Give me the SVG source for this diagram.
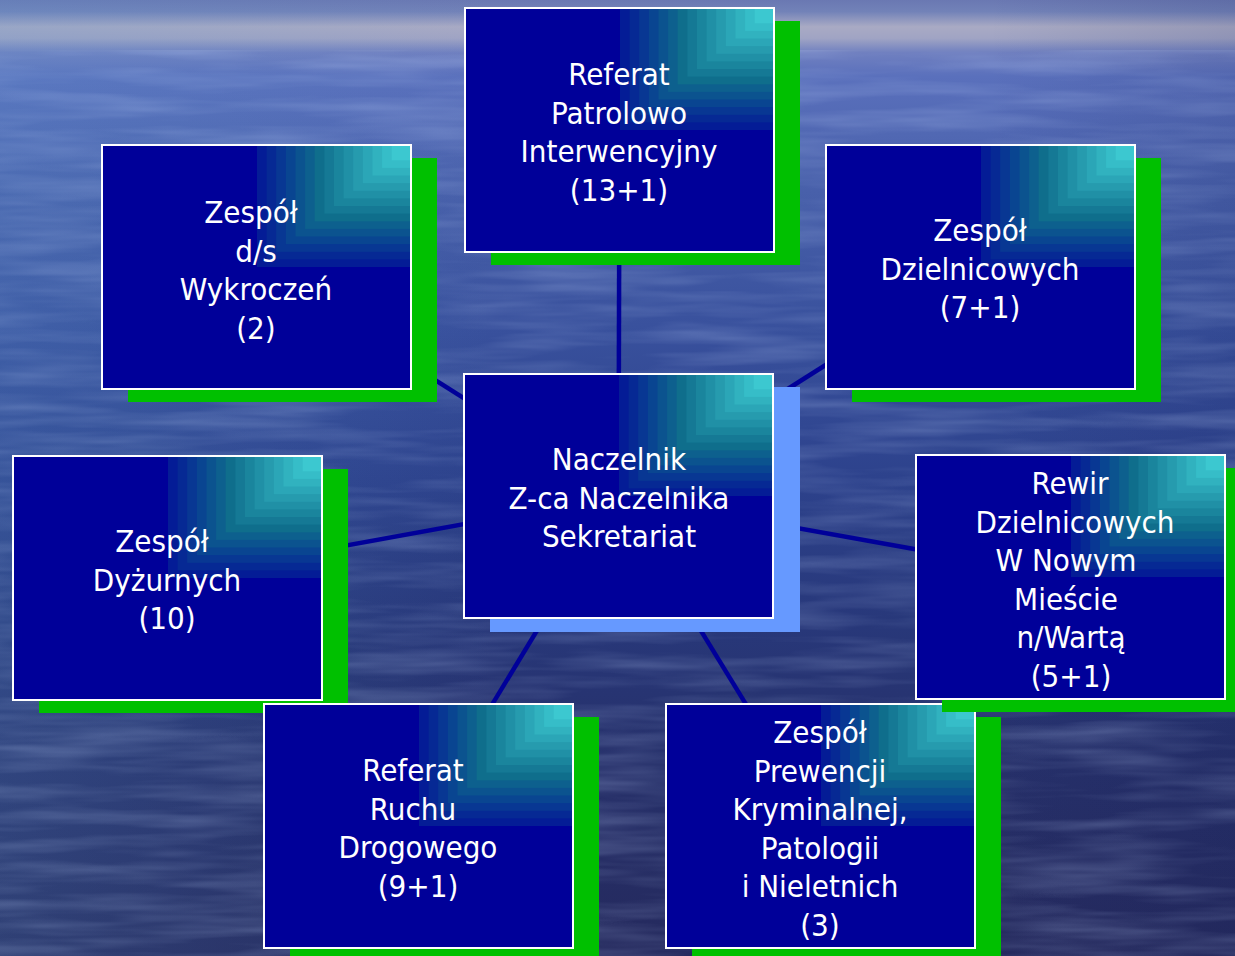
<svg xmlns="http://www.w3.org/2000/svg" xmlns:xlink="http://www.w3.org/1999/xlink" width="1235" height="956" viewBox="0 0 1235 956">
<style>
.sh{fill:#00c000}
.shc{fill:#6699ff}
.bx{fill:#000099}
.bd{fill:none;stroke:#ffffff;stroke-width:2}
.t{fill:#ffffff;font-family:"DejaVu Sans Condensed","DejaVu Sans",sans-serif;font-size:31px;text-anchor:middle}
.cn{stroke:#000099;stroke-width:4.5;fill:none}
</style>
<defs>
<linearGradient id="bgv" x1="0" y1="0" x2="0" y2="1">
<stop offset="0" stop-color="#6a78b2"/>
<stop offset="0.012" stop-color="#7282b8"/>
<stop offset="0.028" stop-color="#a9aac4"/>
<stop offset="0.04" stop-color="#a0a4c4"/>
<stop offset="0.055" stop-color="#7080c0"/>
<stop offset="0.08" stop-color="#5a70bc"/>
<stop offset="0.2" stop-color="#4860aa"/>
<stop offset="0.35" stop-color="#38509c"/>
<stop offset="0.5" stop-color="#2d428c"/>
<stop offset="0.65" stop-color="#28387a"/>
<stop offset="0.8" stop-color="#26306a"/>
<stop offset="1" stop-color="#252a5e"/>
</linearGradient>
<linearGradient id="bgh" x1="0" y1="0" x2="1" y2="0">
<stop offset="0" stop-color="#5a98d0" stop-opacity="0.2"/>
<stop offset="0.4" stop-color="#5a98d0" stop-opacity="0"/>
<stop offset="0.8" stop-color="#101850" stop-opacity="0"/>
<stop offset="1" stop-color="#101850" stop-opacity="0.12"/>
</linearGradient>
<filter id="water" x="0" y="0" width="1" height="1">
<feTurbulence type="fractalNoise" baseFrequency="0.006 0.07" numOctaves="3" seed="4"/>
<feColorMatrix values="0 0 0 0 0.5  0 0 0 0 0.62  0 0 0 0 0.92  0.45 0 0 0 -0.17"/>
</filter>
<g id="gq">
<rect x="-154" y="0" width="154" height="122" fill="rgb(4,28,150)"/>
<rect x="-144.4" y="0" width="144.4" height="114.4" fill="rgb(6,41,148)"/>
<rect x="-134.8" y="0" width="134.8" height="106.8" fill="rgb(8,55,147)"/>
<rect x="-125.1" y="0" width="125.1" height="99.1" fill="rgb(9,69,145)"/>
<rect x="-115.5" y="0" width="115.5" height="91.5" fill="rgb(11,83,143)"/>
<rect x="-105.9" y="0" width="105.9" height="83.9" fill="rgb(13,96,142)"/>
<rect x="-96.3" y="0" width="96.3" height="76.3" fill="rgb(15,110,140)"/>
<rect x="-86.6" y="0" width="86.6" height="68.6" fill="rgb(21,121,149)"/>
<rect x="-77" y="0" width="77" height="61" fill="rgb(26,133,157)"/>
<rect x="-67.4" y="0" width="67.4" height="53.4" fill="rgb(32,144,166)"/>
<rect x="-57.8" y="0" width="57.8" height="45.8" fill="rgb(38,155,174)"/>
<rect x="-48.1" y="0" width="48.1" height="38.1" fill="rgb(43,166,183)"/>
<rect x="-38.5" y="0" width="38.5" height="30.5" fill="rgb(49,178,191)"/>
<rect x="-28.9" y="0" width="28.9" height="22.9" fill="rgb(54,189,200)"/>
<rect x="-19.3" y="0" width="19.3" height="15.3" fill="rgb(60,200,208)"/>
</g>
</defs>
<g id="background">
<rect x="0" y="0" width="1235" height="956" fill="url(#bgv)"/>
<rect x="0" y="0" width="1235" height="956" fill="url(#bgh)"/>
<rect x="0" y="50" width="1235" height="906" filter="url(#water)"/>
</g>
<g id="connectors">
<line class="cn" x1="618.5" y1="496" x2="619.5" y2="130"/>
<line class="cn" x1="618.5" y1="496" x2="256.5" y2="267"/>
<line class="cn" x1="618.5" y1="496" x2="980.5" y2="267"/>
<line class="cn" x1="618.5" y1="496" x2="167.5" y2="578"/>
<line class="cn" x1="618.5" y1="496" x2="1070.5" y2="577"/>
<line class="cn" x1="618.5" y1="496" x2="418.5" y2="826"/>
<line class="cn" x1="618.5" y1="496" x2="820.5" y2="826"/>
</g>
<g id="n-top">
<rect class="sh" x="491" y="21" width="309" height="244"/>
<rect class="bx" x="465" y="8" width="309" height="244"/>
<use xlink:href="#gq" x="774" y="8"/>
<rect class="bd" x="465" y="8" width="309" height="244"/>
<text class="t" x="619" y="85">Referat</text>
<text class="t" x="619" y="123.5">Patrolowo</text>
<text class="t" x="619" y="162">Interwencyjny</text>
<text class="t" x="619" y="200.5">(13+1)</text>
</g>
<g id="n-ul">
<rect class="sh" x="128" y="158" width="309" height="244"/>
<rect class="bx" x="102" y="145" width="309" height="244"/>
<use xlink:href="#gq" x="411" y="145"/>
<rect class="bd" x="102" y="145" width="309" height="244"/>
<text class="t" x="251" y="223">Zespół</text>
<text class="t" x="256" y="261.5">d/s</text>
<text class="t" x="256" y="300">Wykroczeń</text>
<text class="t" x="256" y="338.5">(2)</text>
</g>
<g id="n-ur">
<rect class="sh" x="852" y="158" width="309" height="244"/>
<rect class="bx" x="826" y="145" width="309" height="244"/>
<use xlink:href="#gq" x="1135" y="145"/>
<rect class="bd" x="826" y="145" width="309" height="244"/>
<text class="t" x="980" y="241">Zespół</text>
<text class="t" x="980" y="279.5">Dzielnicowych</text>
<text class="t" x="980" y="318">(7+1)</text>
</g>
<g id="n-center">
<rect class="shc" x="490" y="387" width="310" height="245"/>
<rect class="bx" x="464" y="374" width="309" height="244"/>
<use xlink:href="#gq" x="773" y="374"/>
<rect class="bd" x="464" y="374" width="309" height="244"/>
<text class="t" x="619" y="470">Naczelnik</text>
<text class="t" x="619" y="508.5">Z-ca Naczelnika</text>
<text class="t" x="619" y="547">Sekretariat</text>
</g>
<g id="n-left">
<rect class="sh" x="39" y="469" width="309" height="244"/>
<rect class="bx" x="13" y="456" width="309" height="244"/>
<use xlink:href="#gq" x="322" y="456"/>
<rect class="bd" x="13" y="456" width="309" height="244"/>
<text class="t" x="162" y="552">Zespół</text>
<text class="t" x="167" y="590.5">Dyżurnych</text>
<text class="t" x="167" y="629">(10)</text>
</g>
<g id="n-bl">
<rect class="sh" x="290" y="717" width="309" height="244"/>
<rect class="bx" x="264" y="704" width="309" height="244"/>
<use xlink:href="#gq" x="573" y="704"/>
<rect class="bd" x="264" y="704" width="309" height="244"/>
<text class="t" x="413" y="781">Referat</text>
<text class="t" x="413" y="819.5">Ruchu</text>
<text class="t" x="418" y="858">Drogowego</text>
<text class="t" x="418" y="896.5">(9+1)</text>
</g>
<g id="n-br">
<rect class="sh" x="692" y="717" width="309" height="244"/>
<rect class="bx" x="666" y="704" width="309" height="244"/>
<use xlink:href="#gq" x="975" y="704"/>
<rect class="bd" x="666" y="704" width="309" height="244"/>
<text class="t" x="820" y="743">Zespół</text>
<text class="t" x="820" y="781.5">Prewencji</text>
<text class="t" x="820" y="820">Kryminalnej,</text>
<text class="t" x="820" y="858.5">Patologii</text>
<text class="t" x="820" y="897">i Nieletnich</text>
<text class="t" x="820" y="935.5">(3)</text>
</g>
<g id="n-right">
<rect class="sh" x="942" y="468" width="309" height="244"/>
<rect class="bx" x="916" y="455" width="309" height="244"/>
<use xlink:href="#gq" x="1225" y="455"/>
<rect class="bd" x="916" y="455" width="309" height="244"/>
<text class="t" x="1070" y="494">Rewir</text>
<text class="t" x="1075" y="532.5">Dzielnicowych</text>
<text class="t" x="1066" y="571">W Nowym</text>
<text class="t" x="1066" y="609.5">Mieście</text>
<text class="t" x="1071" y="648">n/Wartą</text>
<text class="t" x="1071" y="686.5">(5+1)</text>
</g>
</svg>
